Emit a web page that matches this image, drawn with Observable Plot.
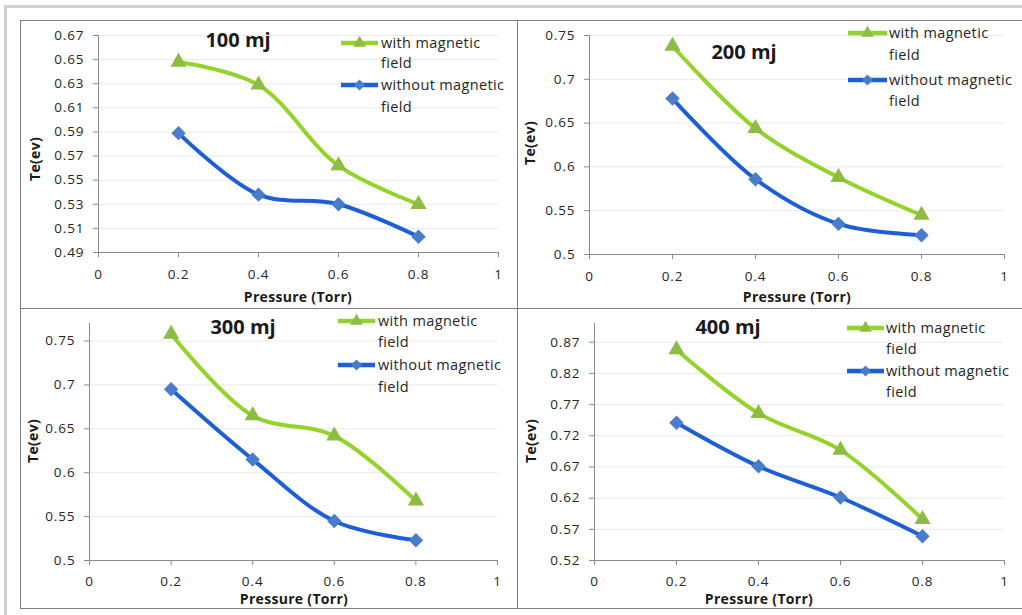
<!DOCTYPE html>
<html>
<head>
<meta charset="utf-8">
<script src="https://cdn.jsdelivr.net/npm/d3@7"></script>
<script src="https://cdn.jsdelivr.net/npm/@observablehq/plot@0.6"></script>
<style>
  html, body { margin: 0; padding: 0; background: #fff; }
  #root { position: relative; width: 1022px; height: 615px; overflow: hidden; background: #fff; font-family: "Open Sans", sans-serif; }
  .frame { position: absolute; border: 1px solid #7f7f7f; box-sizing: border-box; }
  .outer { position: absolute; left: 4px; top: 5px; width: 1100px; height: 700px; border-left: 3px solid #cfcfcf; border-top: 3px solid #cfcfcf; box-sizing: border-box; }
  .panel { position: absolute; }
  .txt { position: absolute; white-space: nowrap; color: #1a1a1a; line-height: 1; }
  .title { font-weight: bold; font-size: 20px; transform: translate(-50%, -50%); }
  .xlab { font-weight: bold; font-size: 14px; transform: translate(-50%, -50%); letter-spacing: 0.3px; }
  .ylab { font-weight: bold; font-size: 14px; transform: translate(-50%, -50%) rotate(-90deg); letter-spacing: 0.3px; }
  .leg { font-size: 14.5px; transform: translate(0, -50%); color: #262626; letter-spacing: 0.35px; }
  svg.sw { position: absolute; overflow: visible; }
</style>
</head>
<body>
<div id="root"></div>
<script>
// ---------- data ----------
const pressure = [0.2, 0.4, 0.6, 0.8];
const seriesNames = ["with magnetic field", "without magnetic field"];

const with100 = [0.648, 0.629, 0.562, 0.530];
const without100 = [0.589, 0.538, 0.530, 0.503];
const with200 = [0.738, 0.644, 0.588, 0.545];
const without200 = [0.678, 0.586, 0.535, 0.522];
const with300 = [0.758, 0.665, 0.642, 0.568];
const without300 = [0.695, 0.615, 0.545, 0.523];
const with400 = [0.858, 0.756, 0.697, 0.586];
const without400 = [0.741, 0.671, 0.621, 0.559];

const panelTitles = ["100 mj", "200 mj", "300 mj", "400 mj"];
const xTicks = [0, 0.2, 0.4, 0.6, 0.8, 1];
const xTickLabels = ["0", "0.2", "0.4", "0.6", "0.8", "1"];
const yTicks100 = [0.49, 0.51, 0.53, 0.55, 0.57, 0.59, 0.61, 0.63, 0.65, 0.67];
const yTickLabels100 = ["0.49", "0.51", "0.53", "0.55", "0.57", "0.59", "0.61", "0.63", "0.65", "0.67"];
const yTicks200 = [0.5, 0.55, 0.6, 0.65, 0.7, 0.75];
const yTickLabels200 = ["0.5", "0.55", "0.6", "0.65", "0.7", "0.75"];
const yTicks300 = [0.5, 0.55, 0.6, 0.65, 0.7, 0.75];
const yTickLabels300 = ["0.5", "0.55", "0.6", "0.65", "0.7", "0.75"];
const yTicks400 = [0.52, 0.57, 0.62, 0.67, 0.72, 0.77, 0.82, 0.87];
const yTickLabels400 = ["0.52", "0.57", "0.62", "0.67", "0.72", "0.77", "0.82", "0.87"];
const yDomain100 = [0.49, 0.67];
const yDomain200 = [0.5, 0.75];
const yDomain300 = [0.5, 0.77];
const yDomain400 = [0.52, 0.90];
const xLabel = "Pressure (Torr)";
const yLabel = "Te(ev)";

// ---------- styles ----------
const GREEN = "#94d22c", GREEN_MK = "#8cbc44";
const BLUE = "#1f5fd6", BLUE_MK = "#4a7dc9";

const panels = [
  { title: panelTitles[0], w: with100, wo: without100, ticks: yTicks100, labels: yTickLabels100, domain: yDomain100,
    box: {left: 20, top: 20, w: 497, h: 288}, m: {l: 78, r: 19, t: 15, b: 56}, tp: 12,
    titlePos: [238, 40], xlabPos: [298, 297], ylabPos: [35, 159],
    leg: {x0: 341, x1: 378, tx: 381, ys: [43, 63, 85, 107]} },
  { title: panelTitles[1], w: with200, wo: without200, ticks: yTicks200, labels: yTickLabels200, domain: yDomain200,
    box: {left: 517, top: 20, w: 505, h: 288}, m: {l: 72, r: 18, t: 15, b: 54}, tp: 12,
    titlePos: [744, 52], xlabPos: [797, 297], ylabPos: [530, 143],
    leg: {x0: 848, x1: 887, tx: 889, ys: [33, 55, 80, 101]} },
  { title: panelTitles[2], w: with300, wo: without300, ticks: yTicks300, labels: yTickLabels300, domain: yDomain300,
    box: {left: 20, top: 308, w: 497, h: 300}, m: {l: 69, r: 20, t: 15, b: 48}, tp: 11,
    titlePos: [243, 327], xlabPos: [294, 599], ylabPos: [33, 441],
    leg: {x0: 338, x1: 375, tx: 378, ys: [321, 342, 365, 387]} },
  { title: panelTitles[3], w: with400, wo: without400, ticks: yTicks400, labels: yTickLabels400, domain: yDomain400,
    box: {left: 517, top: 308, w: 505, h: 300}, m: {l: 77, r: 18, t: 15, b: 48}, tp: 11,
    titlePos: [728, 327], xlabPos: [759, 599], ylabPos: [531, 441],
    leg: {x0: 847, x1: 884, tx: 886, ys: [328, 349, 371, 392]} }
];

const root = document.getElementById("root");
const outer = document.createElement("div");
outer.className = "outer";
root.appendChild(outer);

function addText(cls, text, x, y) {
  const d = document.createElement("div");
  d.className = "txt " + cls;
  d.textContent = text;
  d.style.left = x + "px";
  d.style.top = y + "px";
  root.appendChild(d);
}

for (const p of panels) {
  const frame = document.createElement("div");
  frame.className = "frame";
  Object.assign(frame.style, {left: p.box.left + "px", top: p.box.top + "px", width: p.box.w + 1 + "px", height: p.box.h + 1 + "px"});
  root.appendChild(frame);

  const data = [];
  pressure.forEach((x, i) => data.push({series: seriesNames[0], x, y: p.w[i]}));
  pressure.forEach((x, i) => data.push({series: seriesNames[1], x, y: p.wo[i]}));
  const dWith = data.filter(d => d.series === seriesNames[0]);
  const dWithout = data.filter(d => d.series === seriesNames[1]);

  const chart = Plot.plot({
    width: p.box.w,
    height: p.box.h,
    marginLeft: p.m.l, marginRight: p.m.r, marginTop: p.m.t, marginBottom: p.m.b,
    style: {fontFamily: "Open Sans", fontSize: "13.5px", letterSpacing: "0.9px", background: "transparent", overflow: "visible"},
    x: {domain: [0, 1]},
    y: {domain: p.domain},
    marks: [
      Plot.gridY(p.ticks, {stroke: "#e9e9e9", strokeOpacity: 1}),
      Plot.ruleX([0], {stroke: "#8a8a8a"}),
      Plot.ruleY([p.domain[0]], {stroke: "#8a8a8a"}),
      Plot.axisX(xTicks, {tickSize: 5, tickPadding: p.tp, stroke: "#8a8a8a", fill: "#262626",
        tickFormat: (d) => xTickLabels[xTicks.indexOf(d)], label: null}),
      Plot.axisY(p.ticks, {tickSize: 5, tickPadding: 9, stroke: "#8a8a8a", fill: "#262626",
        tickFormat: (d) => p.labels[p.ticks.indexOf(d)], label: null}),
      Plot.line(dWith, {x: "x", y: "y", stroke: GREEN, strokeWidth: 4, curve: "catmull-rom"}),
      Plot.line(dWithout, {x: "x", y: "y", stroke: BLUE, strokeWidth: 4, curve: "catmull-rom"}),
      Plot.dot(dWith, {x: "x", y: "y", symbol: "triangle", r: 6, fill: GREEN_MK, stroke: "none"}),
      Plot.dot(dWithout, {x: "x", y: "y", symbol: "diamond2", r: 6.5, fill: BLUE_MK, stroke: "none"})
    ]
  });
  chart.classList.add("panel");
  chart.style.left = p.box.left + "px";
  chart.style.top = p.box.top + "px";
  root.appendChild(chart);

  addText("title", p.title, p.titlePos[0], p.titlePos[1]);
  addText("xlab", xLabel, p.xlabPos[0], p.xlabPos[1]);
  addText("ylab", yLabel, p.ylabPos[0], p.ylabPos[1]);

  // legend
  const L = p.leg;
  addText("leg", "with magnetic", L.tx, L.ys[0]);
  addText("leg", "field", L.tx, L.ys[1]);
  addText("leg", "without magnetic", L.tx, L.ys[2]);
  addText("leg", "field", L.tx, L.ys[3]);
  const sw = d3.select(root).append("svg").attr("class", "sw")
    .attr("width", 1).attr("height", 1).style("left", "0px").style("top", "0px");
  const items = [
    {y: L.ys[0], c: GREEN, mc: GREEN_MK, sym: d3.symbolTriangle, size: 70},
    {y: L.ys[2], c: BLUE, mc: BLUE_MK, sym: d3.symbolSquare, size: 60, rot: 45}
  ];
  for (const it of items) {
    sw.append("line").attr("x1", L.x0).attr("x2", L.x1).attr("y1", it.y).attr("y2", it.y)
      .attr("stroke", it.c).attr("stroke-width", 4.5);
    sw.append("path").attr("d", d3.symbol(it.sym, it.size)())
      .attr("transform", `translate(${(L.x0 + L.x1) / 2},${it.y}) rotate(${it.rot || 0})`)
      .attr("fill", it.mc);
  }
}
</script>
</body>
</html>
